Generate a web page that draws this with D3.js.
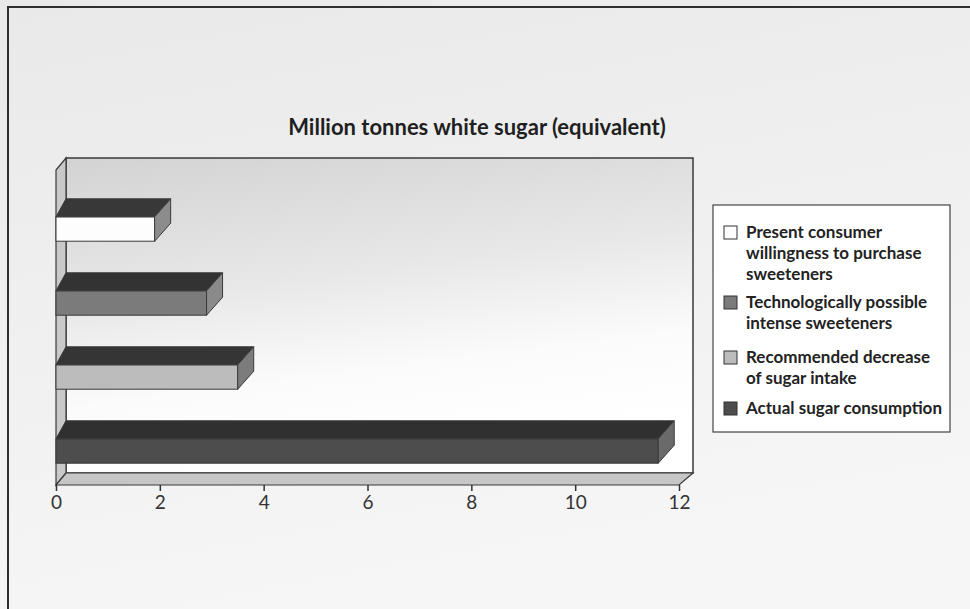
<!DOCTYPE html>
<html>
<head>
<meta charset="utf-8">
<script src="https://cdn.jsdelivr.net/npm/d3@7"></script>
<style>
  html, body { margin: 0; padding: 0; background: #fff; }
  svg { display: block; }
</style>
</head>
<body>
<svg id="chart" width="970" height="609"></svg>
<script>
// Categories listed bottom-to-top as drawn on the chart
const categories = [
  "Actual sugar consumption",
  "Recommended decrease of sugar intake",
  "Technologically possible intense sweeteners",
  "Present consumer willingness to purchase sweeteners"
];
// Million tonnes white sugar equivalent
const values = [11.6, 3.5, 2.9, 1.9];
const tickValues = [0, 2, 4, 6, 8, 10, 12];
const titleText = "Million tonnes white sugar (equivalent)";
// Legend entries, top-to-bottom, with their wrapped lines
const legendCategories = [
  "Present consumer willingness to purchase sweeteners",
  "Technologically possible intense sweeteners",
  "Recommended decrease of sugar intake",
  "Actual sugar consumption"
];
const legendLines = [
  ["Present consumer", "willingness to purchase", "sweeteners"],
  ["Technologically possible", "intense sweeteners"],
  ["Recommended decrease", "of sugar intake"],
  ["Actual sugar consumption"]
];

// Face colours per category: front, top, side
const palette = {
  "Actual sugar consumption": { front: "#4d4d4d", top: "#303030", side: "#6a6a6a" },
  "Recommended decrease of sugar intake": { front: "#bcbcbc", top: "#353535", side: "#7c7c7c" },
  "Technologically possible intense sweeteners": { front: "#7b7b7b", top: "#333333", side: "#8a8a8a" },
  "Present consumer willingness to purchase sweeteners": { front: "#fdfdfd", top: "#383838", side: "#8c8c8c" }
};

const FONT = "Lato, 'Open Sans', sans-serif";
const svg = d3.select("#chart");

// Background gradients
const defs = svg.append("defs");
const pageGrad = defs.append("linearGradient").attr("id", "pageGrad")
  .attr("x1", 0).attr("y1", 0).attr("x2", 0.3).attr("y2", 1);
pageGrad.append("stop").attr("offset", 0).attr("stop-color", "#e9e9e9");
pageGrad.append("stop").attr("offset", 1).attr("stop-color", "#f6f6f6");
const wallGrad = defs.append("linearGradient").attr("id", "wallGrad")
  .attr("x1", 0).attr("y1", 0).attr("x2", 0.25).attr("y2", 1);
wallGrad.append("stop").attr("offset", 0).attr("stop-color", "#d3d3d3");
wallGrad.append("stop").attr("offset", 0.45).attr("stop-color", "#e8e8e8");
wallGrad.append("stop").attr("offset", 0.75).attr("stop-color", "#fbfbfb");
wallGrad.append("stop").attr("offset", 1).attr("stop-color", "#ffffff");

svg.append("rect").attr("width", 970).attr("height", 609).attr("fill", "url(#pageGrad)");
// Outer frame (runs off the right and bottom edges)
svg.append("rect").attr("x", 8).attr("y", 7).attr("width", 980).attr("height", 620)
  .attr("fill", "none").attr("stroke", "#2e2e2e").attr("stroke-width", 2);

// Title
svg.append("text").attr("x", 477).attr("y", 135)
  .attr("text-anchor", "middle").attr("font-family", FONT)
  .attr("font-weight", "bold").attr("font-size", 22).attr("fill", "#1f1f1f")
  .text(titleText);

// Scales
const x = d3.scaleLinear().domain([0, 12]).range([56, 679]);
const y = d3.scaleBand().domain(categories.slice().reverse())
  .range([192, 488]).paddingInner(0.67).paddingOuter(0.335);

// 3D box geometry
const wallDx = 10, wallDy = 12;
const barDx = 16, barDy = 18;
const frontTop = 170, frontBottom = 485;
const backRight = 693;
const x0 = x(0);
const stroke = "#3a3a3a";

// Back wall
svg.append("rect")
  .attr("x", x0 + wallDx).attr("y", frontTop - wallDy)
  .attr("width", backRight - (x0 + wallDx)).attr("height", frontBottom - frontTop)
  .attr("fill", "url(#wallGrad)").attr("stroke", stroke).attr("stroke-width", 1.5);
// Left side wall
svg.append("polygon")
  .attr("points", [[x0, frontTop], [x0 + wallDx, frontTop - wallDy],
    [x0 + wallDx, frontBottom - wallDy], [x0, frontBottom]].join(" "))
  .attr("fill", "#c9c9c9").attr("stroke", stroke).attr("stroke-width", 1.2);
// Floor
svg.append("polygon")
  .attr("points", [[x0, frontBottom], [x0 + wallDx, frontBottom - wallDy],
    [backRight, frontBottom - wallDy], [x(12), frontBottom]].join(" "))
  .attr("fill", "#c6c6c6").attr("stroke", stroke).attr("stroke-width", 1.2);

// Bars
const bars = svg.append("g").selectAll("g")
  .data(categories.map((c, i) => ({ c, v: values[i] })))
  .join("g");

bars.append("rect")
  .attr("x", x0)
  .attr("y", d => y(d.c))
  .attr("width", d => x(d.v) - x0)
  .attr("height", y.bandwidth())
  .attr("fill", d => palette[d.c].front)
  .attr("stroke", stroke).attr("stroke-width", 1);

bars.append("polygon")
  .attr("points", d => {
    const yt = y(d.c), x1 = x(d.v);
    return [[x0, yt], [x0 + wallDx, yt - barDy], [x1 + barDx, yt - barDy], [x1, yt]].join(" ");
  })
  .attr("fill", d => palette[d.c].top)
  .attr("stroke", stroke).attr("stroke-width", 1);

bars.append("polygon")
  .attr("points", d => {
    const yt = y(d.c), yb = yt + y.bandwidth(), x1 = x(d.v);
    return [[x1, yt], [x1 + barDx, yt - barDy], [x1 + barDx, yb - barDy], [x1, yb]].join(" ");
  })
  .attr("fill", d => palette[d.c].side)
  .attr("stroke", stroke).attr("stroke-width", 1);

// Value axis
const axis = svg.append("g")
  .attr("transform", `translate(0,${frontBottom})`)
  .call(d3.axisBottom(x).tickValues(tickValues).tickSize(6).tickPadding(5)
    .tickFormat(d3.format("d")));
axis.select(".domain").remove();
axis.selectAll(".tick line").attr("stroke", "#333").attr("stroke-width", 1.5);
axis.selectAll(".tick text")
  .attr("font-family", FONT).attr("font-size", 19).attr("fill", "#333");

// Legend
const legend = svg.append("g");
legend.append("rect").attr("x", 713).attr("y", 205).attr("width", 237).attr("height", 227)
  .attr("fill", "#ffffff").attr("stroke", "#444").attr("stroke-width", 1.2);

const lineH = 21;
const itemTops = [232, 302, 357, 408];
legendCategories.forEach((c, i) => {
  const yc = itemTops[i];
  legend.append("rect")
    .attr("x", 724).attr("y", yc - 6).attr("width", 13).attr("height", 13)
    .attr("fill", palette[c].front).attr("stroke", "#333").attr("stroke-width", 1);
  const t = legend.append("text")
    .attr("font-family", FONT).attr("font-weight", "bold")
    .attr("font-size", 17).attr("fill", "#222");
  legendLines[i].forEach((ln, j) => {
    t.append("tspan").attr("x", 746).attr("y", yc + 6 + j * lineH).text(ln);
  });
});
</script>
</body>
</html>
